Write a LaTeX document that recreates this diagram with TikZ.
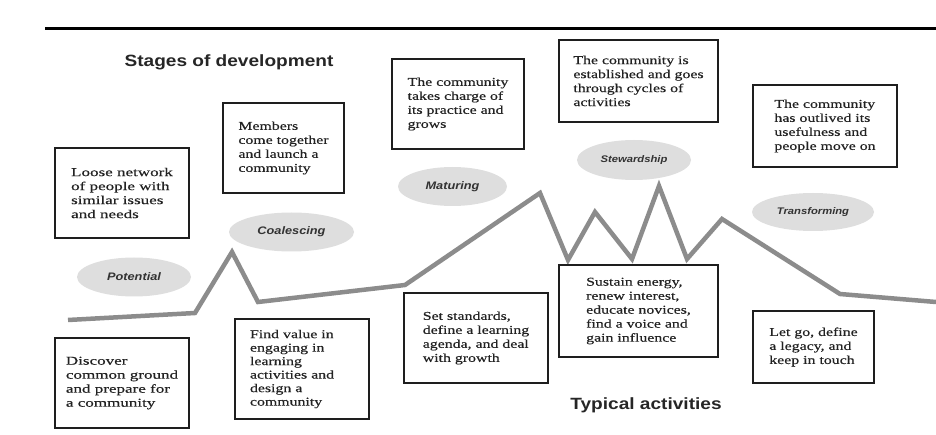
\documentclass[tikz,border=0pt]{standalone}
\usepackage{fontspec}
\setmainfont{Liberation Serif}[FakeStretch=1.32,FakeBold=0.4]
\newfontfamily\widefont{Liberation Serif}[FakeStretch=1.42,FakeBold=0.4]
\newfontfamily\headfont{Liberation Sans}[FakeStretch=1.17]
\usetikzlibrary{shapes.geometric}
\definecolor{trendgray}{HTML}{8C8C8C}
\definecolor{ellgray}{HTML}{DEDEDE}
\definecolor{boxline}{HTML}{1E1E1E}
\definecolor{txt}{HTML}{222222}
\begin{document}
\begin{tikzpicture}[x=1pt,y=-1pt,
  box/.style={draw=boxline, line width=1.3pt, fill=white, align=left, inner sep=0pt,
    font=\fontsize{12}{14}\selectfont, text=txt},
  widebox/.style={box, font=\widefont\fontsize{12}{14}\selectfont},
  stage/.style={ellipse, fill=ellgray, inner sep=0pt,
    font=\headfont\bfseries\itshape\fontsize{10.9}{12}\selectfont, text=black!80},
  smallstage/.style={stage, font=\headfont\bfseries\itshape\fontsize{9.6}{11}\selectfont},
  heading/.style={font=\headfont\bfseries\fontsize{16.3}{18}\selectfont, text=black!85},
  trend/.style={draw=trendgray, line width=4.5pt, line join=miter},
  rule/.style={draw=black, line width=3pt}]
\useasboundingbox (0,0) rectangle (936,435);

% top rule
\coordinate (ruleL) at (45,29);
\coordinate (ruleR) at (936,29);
\draw[rule] (ruleL) -- (ruleR);

% development curve
\draw[trend] (68,320) -- (195,313) -- (232,252) -- (258,302) -- (405,285)
  -- (540,193) -- (568,260) -- (595,212) -- (632,259) -- (659,186)
  -- (687,259) -- (722,219) -- (840,294) -- (936,302);

% headings
\node[heading] (stages) at (229,62) {Stages of development};
\node[heading] (typical) at (646,405) {Typical activities};

% stage ellipses
\node[stage, minimum width=114pt, minimum height=39pt] (potential) at (134,277) {Potential};
\node[stage, minimum width=125pt, minimum height=39pt] (coalescing) at (291.5,232) {Coalescing};
\node[stage, minimum width=109pt, minimum height=39pt] (maturing) at (452.5,186.5) {Maturing};
\node[smallstage, minimum width=114pt, minimum height=40pt] (stewardship) at (634,160) {Stewardship};
\node[smallstage, minimum width=122pt, minimum height=38pt] (transforming) at (813,212) {Transforming};

% top boxes
\node[widebox, minimum width=134pt, minimum height=90pt] (t1) at (122,193)
  {Loose network\\of people with\\similar issues\\and needs};
\node[box, minimum width=121pt, minimum height=90pt] (t2) at (283.5,148)
  {Members\\come together\\and launch a\\community};
\node[box, minimum width=132pt, minimum height=90pt] (t3) at (458,104)
  {The community\\takes charge of\\its practice and\\grows};
\node[box, minimum width=159pt, minimum height=82pt] (t4) at (638.5,81)
  {The community is\\established and goes\\through cycles of\\activities};
\node[box, minimum width=144pt, minimum height=82pt] (t5) at (825,126)
  {The community\\has outlived its\\usefulness and\\people move on};

% bottom boxes
\node[widebox, minimum width=134pt, minimum height=90pt] (b1) at (122,383)
  {Discover\\common ground\\and prepare for\\a community};
\node[box, text width=104pt, inner xsep=15pt, minimum width=134pt, minimum height=100pt,
  font=\fontsize{12}{13.5}\selectfont] (b2) at (302,369)
  {Find value in\\engaging in\\learning\\activities and\\design a\\community};
\node[box, minimum width=144pt, minimum height=90pt] (b3) at (476,338)
  {Set standards,\\define a learning\\agenda, and deal\\with growth};
\node[box, minimum width=159pt, minimum height=92pt] (b4) at (638.5,311)
  {Sustain energy,\\renew interest,\\educate novices,\\find a voice and\\gain influence};
\node[box, minimum width=121pt, minimum height=72pt] (b5) at (813.5,347)
  {Let go, define\\a legacy, and\\keep in touch};
\end{tikzpicture}
\end{document}
